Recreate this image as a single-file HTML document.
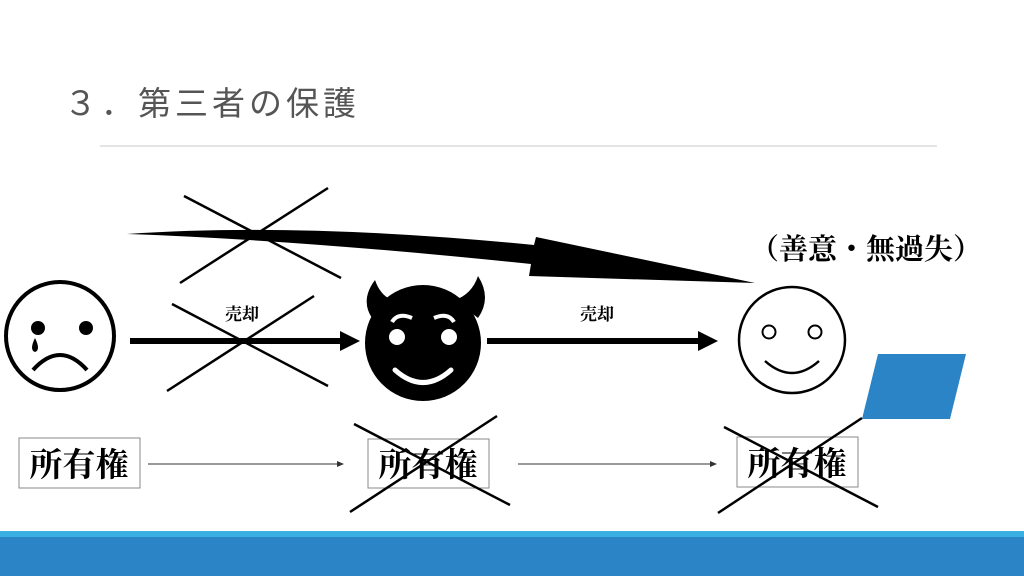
<!DOCTYPE html>
<html><head><meta charset="utf-8"><style>
body{margin:0;width:1024px;height:576px;overflow:hidden;background:#fff}
svg{display:block}
</style></head><body>
<svg width="1024" height="576" viewBox="0 0 1024 576" xmlns="http://www.w3.org/2000/svg">
<text x="64" y="115" font-family="Liberation Sans, Noto Sans CJK JP, sans-serif" font-size="33" letter-spacing="4" fill="#555">３．第三者の保護</text>
<line x1="100" y1="146" x2="937" y2="146" stroke="#c8c8c8" stroke-width="1"/>
<path d="M127,234 Q300,222 534,245 L536,237 L755,283 L529,276 L531,264 Q300,240 127,234 Z" fill="#000"/>
<g stroke="#000" stroke-width="2.5">
<line x1="184" y1="196" x2="341" y2="278"/><line x1="328" y1="188" x2="180" y2="283"/>
<line x1="172" y1="304" x2="328" y2="386"/><line x1="314" y1="296" x2="167" y2="391"/>
</g>
<line x1="130" y1="341" x2="342" y2="341" stroke="#000" stroke-width="6"/>
<polygon points="340,331 360,341 340,351" fill="#000"/>
<line x1="487" y1="341" x2="700" y2="341" stroke="#000" stroke-width="6"/>
<polygon points="698,331 718,341 698,351" fill="#000"/>
<text x="242" y="320" text-anchor="middle" font-family="Liberation Serif, Noto Serif CJK SC, serif" font-weight="bold" font-size="17">売却</text>
<text x="597" y="320" text-anchor="middle" font-family="Liberation Serif, Noto Serif CJK SC, serif" font-weight="bold" font-size="17">売却</text>
<circle cx="60" cy="336" r="54" fill="none" stroke="#000" stroke-width="4"/>
<circle cx="38" cy="328" r="7"/><circle cx="86" cy="328" r="7"/>
<path d="M35,338 Q29,350 35,352 Q41,350 35,338Z"/>
<path d="M33,370 Q60,340 87,370" fill="none" stroke="#000" stroke-width="4"/>
<path d="M375,280 Q360,300 372,318 L392,300 Q380,295 375,280Z"/>
<path d="M478,276 Q492,298 478,318 L455,300 Q472,294 478,276Z"/>
<circle cx="423" cy="343" r="58"/>
<circle cx="397" cy="337" r="8" fill="#fff"/><circle cx="449" cy="337" r="8" fill="#fff"/>
<path d="M392,322 Q398,312 412,318" fill="none" stroke="#fff" stroke-width="4"/>
<path d="M434,318 Q448,312 454,322" fill="none" stroke="#fff" stroke-width="4"/>
<path d="M395,370 Q423,395 451,370" fill="none" stroke="#fff" stroke-width="5" stroke-linecap="round"/>
<circle cx="792" cy="340" r="53" fill="none" stroke="#000" stroke-width="2.5"/>
<circle cx="769" cy="332" r="6.5" fill="none" stroke="#000" stroke-width="2"/>
<circle cx="815" cy="332" r="6.5" fill="none" stroke="#000" stroke-width="2"/>
<path d="M765,361 Q792,385 819,361" fill="none" stroke="#000" stroke-width="2.5"/>
<text x="750" y="259" font-family="Liberation Serif, Noto Serif CJK JP, serif" font-weight="bold" font-size="29">（善意・無過失）</text>
<polygon points="878,354 966,354 950,419 862,419" fill="#2a84c6"/>
<g fill="#fff" stroke="#888" stroke-width="1">
<rect x="19" y="438" width="121" height="50"/>
<rect x="368" y="439" width="121" height="49"/>
<rect x="737" y="437" width="121" height="50"/>
</g>
<g font-family="Liberation Serif, Noto Serif CJK JP, serif" font-size="33" font-weight="bold" text-anchor="middle">
<text x="79" y="476">所有権</text><text x="428" y="476">所有権</text><text x="797" y="475">所有権</text>
</g>
<g stroke="#000" stroke-width="2.5">
<line x1="354" y1="424" x2="510" y2="505"/><line x1="497" y1="416" x2="350" y2="512"/>
<line x1="724" y1="427" x2="878" y2="507"/><line x1="862" y1="418" x2="718" y2="513"/>
</g>
<line x1="148" y1="464" x2="338" y2="464" stroke="#333" stroke-width="1"/>
<polygon points="337,461 344,464 337,467" fill="#333"/>
<line x1="518" y1="464" x2="711" y2="464" stroke="#333" stroke-width="1"/>
<polygon points="710,461 717,464 710,467" fill="#333"/>
<rect x="0" y="531" width="1024" height="6" fill="#3ab0e2"/>
<rect x="0" y="537" width="1024" height="39" fill="#2a84c6"/>
</svg>
</body></html>
